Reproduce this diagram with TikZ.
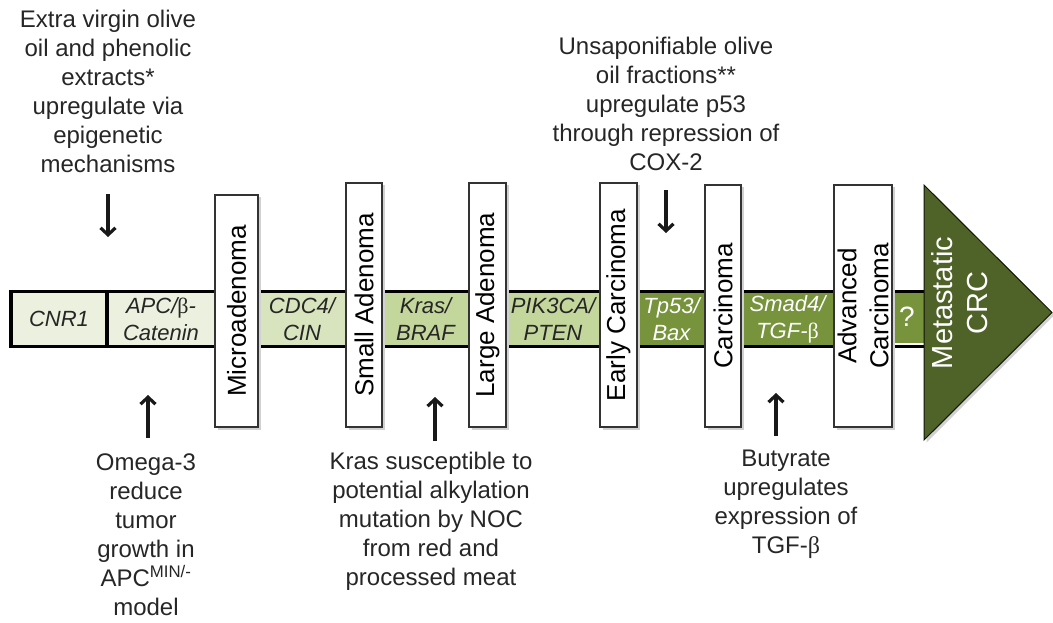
\documentclass[tikz,border=0pt]{standalone}
\usepackage{fontspec}
\setmainfont{Liberation Sans}
\newfontfamily\grkfont{Liberation Serif}
\usetikzlibrary{arrows.meta}

\definecolor{segA}{HTML}{EBF1DE}
\definecolor{segB}{HTML}{D7E4BD}
\definecolor{segC}{HTML}{C3D69B}
\definecolor{segD}{HTML}{77933C}
\definecolor{segE}{HTML}{4F6228}
\definecolor{ink}{HTML}{262626}

% upright serif beta, as set in the gene labels
\newcommand\gbeta{{\upshape\grkfont β}}

\begin{document}
\begin{tikzpicture}[x=1pt,y=-1pt,
  seg/.style={inner sep=0pt, minimum height=52pt, align=center,
    font=\fontsize{22}{27}\selectfont\itshape, text=ink},
  stage/.style={draw=black!80, fill=white, line width=1.2pt, rotate=90,
    inner sep=0pt, align=center, font=\fontsize{26}{32}\selectfont, text=black,
    preaction={fill=black!18, transform canvas={shift={(2.5pt,-2.5pt)}}}},
  note/.style={inner sep=0pt, align=center, anchor=north,
    font=\fontsize{24}{29}\selectfont, text=ink},
  arr/.style={line width=3.4pt, draw=black!90,
    -{Straight Barb[length=7pt,width=15pt,line width=3.2pt]}}
]
\useasboundingbox (0,0) rectangle (1053,623);

% coloured segments of the progression bar
\node[seg, fill=segA, minimum width=96pt]  (cnr)  at (59,319)    {CNR1};
\node[seg, fill=segA, minimum width=108pt] (apc)  at (161,319)   {APC/\gbeta-\\Catenin};
\node[seg, fill=segB, minimum width=88pt]  (cdc)  at (302,319)   {CDC4/\\CIN};
\node[seg, fill=segC, minimum width=87pt]  (kras) at (425.5,319) {Kras/\\BRAF};
\node[seg, fill=segC, minimum width=94pt]  (pik)  at (553,319)   {PIK3CA/\\PTEN};
\node[seg, fill=segD, minimum width=69pt, text=white]  (tp)  at (671.5,319) {Tp53/\\Bax};
\node[seg, fill=segD, minimum width=93pt, text=white]  (smad) at (787.5,319) {Smad4/\\TGF-\gbeta};
\node[seg, fill=segD, minimum width=40pt, text=white, font=\fontsize{28}{32}\selectfont] (q) at (907,317) {?};

% bar outline and the first divider
\node[draw=black, line width=3.5pt, inner sep=0pt, minimum width=924pt,
  minimum height=55pt] (bar) at (473,319) {};
\draw[line width=4pt] (107.3,291.5) -- (107.3,346.5);

% histological stages
\node[stage, minimum width=232pt, minimum height=43pt] (mic)   at (236.5,311) {Microadenoma};
\node[stage, minimum width=244pt, minimum height=36pt] (small) at (364,305)   {Small Adenoma};
\node[stage, minimum width=244pt, minimum height=37pt] (large) at (487.5,305) {Large Adenoma};
\node[stage, minimum width=244pt, minimum height=37pt] (early) at (618.5,305) {Early Carcinoma};
\node[stage, minimum width=242pt, minimum height=36pt] (carc)  at (723,306)   {Carcinoma};
\node[stage, minimum width=242pt, minimum height=58pt] (adv)   at (863,306)   {Advanced\\Carcinoma};

% metastatic end point
\fill[black!18, transform canvas={shift={(2.5pt,-2.5pt)}}]
  (924,185) -- (924,440) -- (1052,312.5) -- cycle;
\draw[fill=segE, draw=black!80!segE, line width=1pt]
  (924,185) -- (924,440) -- (1052,312.5) -- cycle;
\node[rotate=90, align=center, text=white, inner sep=0pt,
  font=\fontsize{29}{35}\selectfont] (met) at (960,303) {Metastatic\\CRC};

% dietary factors
\node[note] (evoo) at (108,10) {Extra virgin olive\\oil and phenolic\\extracts*\\upregulate via\\epigenetic\\mechanisms};
\node[note] (unsap) at (666,37) {Unsaponifiable olive\\oil fractions**\\upregulate p53\\through repression of\\COX-2};
\node[note] (omega) at (146,454) {Omega-3\\reduce\\tumor\\growth in\\APC\textsuperscript{MIN/-}\\model};
\node[note] (noc) at (431,452) {Kras susceptible to\\potential alkylation\\mutation by NOC\\from red and\\processed meat};
\node[note] (buty) at (786,450) {Butyrate\\upregulates\\expression of\\TGF-\gbeta};

% arrows towards the affected genes
\coordinate (evooA) at (108,194);  \coordinate (evooB) at (108,237);
\coordinate (unsapA) at (666,190); \coordinate (unsapB) at (666,233);
\coordinate (omegaA) at (148,438); \coordinate (omegaB) at (148,395);
\coordinate (nocA) at (435,441);   \coordinate (nocB) at (435,397);
\coordinate (butyA) at (776,436);  \coordinate (butyB) at (776,393);
\draw[arr] (evooA) -- (evooB);
\draw[arr] (unsapA) -- (unsapB);
\draw[arr] (omegaA) -- (omegaB);
\draw[arr] (nocA) -- (nocB);
\draw[arr] (butyA) -- (butyB);
\end{tikzpicture}
\end{document}
